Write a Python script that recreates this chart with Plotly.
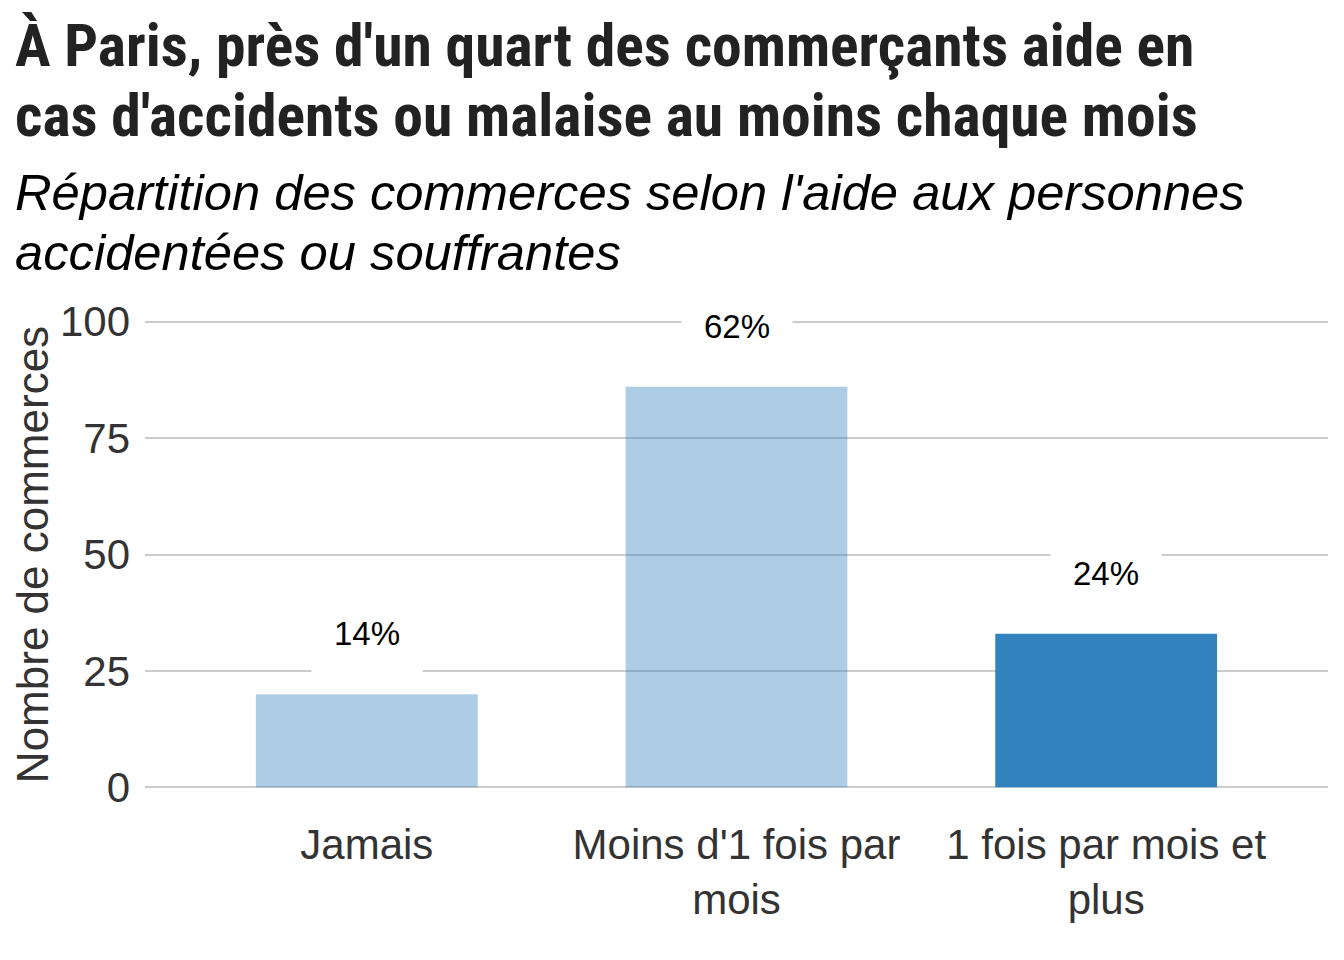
import plotly.graph_objects as go

categories = ["Jamais", "Moins d'1 fois par<br>mois", "1 fois par mois et<br>plus"]
counts = [20, 86, 33]
pct_labels = ["14%", "62%", "24%"]
bar_colors = ["rgba(49,130,189,0.4)", "rgba(49,130,189,0.4)", "rgb(49,130,189)"]
y_ticks = [0, 25, 50, 75, 100]

title_lines = ["À Paris, près d'un quart des commerçants aide en",
               "cas d'accidents ou malaise au moins chaque mois"]
subtitle_lines = ["Répartition des commerces selon l'aide aux personnes",
                  "accidentées ou souffrantes"]

OFF = 8  # page body margin
W, H = 1336, 952
ML, MT = 137, 309
MR = 16
MB = 168
PW, PH = W - ML - MR, H - MT - MB

def px2paper(x, y):
    # x, y given in screenshot pixels
    x -= OFF
    y -= OFF
    return (x - ML) / PW, (H - MB - y) / PH

fig = go.Figure()
x_idx = list(range(len(categories)))
fig.add_trace(go.Bar(x=x_idx, y=counts, marker=dict(color=bar_colors, line=dict(width=0)),
                     width=0.6, hoverinfo="skip"))

annotations = []
for i, (c, p) in enumerate(zip(counts, pct_labels)):
    annotations.append(dict(x=i, y=c + 13, xref="x", yref="y", text=p, showarrow=False,
                            font=dict(family="Liberation Sans, Arial", size=33, color="#000000"),
                            bgcolor="#ffffff", borderpad=22, xanchor="center", yanchor="middle"))

tfont = dict(family="Roboto Condensed, Liberation Sans Narrow, DejaVu Sans Condensed, sans-serif",
             size=59.6, color="#222222")
for line, cy in zip(title_lines, [46, 116]):
    px, py = px2paper(13, cy)
    annotations.append(dict(x=px, y=py, xref="paper", yref="paper", text="<b>" + line + "</b>",
                            showarrow=False, font=tfont, xanchor="left", yanchor="middle"))
sfont = dict(family="Liberation Sans, Arial", size=50.7, color="#000000")
for line, cy in zip(subtitle_lines, [192, 252]):
    px, py = px2paper(13, cy)
    annotations.append(dict(x=px, y=py, xref="paper", yref="paper", text="<i>" + line + "</i>",
                            showarrow=False, font=sfont, xanchor="left", yanchor="middle"))

fig.update_layout(
    width=W, height=H,
    margin=dict(l=ML, r=MR, t=MT, b=MB, autoexpand=False),
    paper_bgcolor="white", plot_bgcolor="white",
    showlegend=False,
    annotations=annotations,
)
fig.update_xaxes(range=[-0.6, 2.6], tickmode="array", tickvals=x_idx, ticktext=categories,
                 showgrid=False, zeroline=False, showline=False, ticks="",
                 tickfont=dict(family="Liberation Sans, Arial", size=42, color="#333333"),
                 ticklabelstandoff=24)
fig.update_yaxes(range=[-1, 101], tickmode="array", tickvals=y_ticks,
                 showgrid=True, gridcolor="#cccccc", gridwidth=2, zeroline=False, showline=False,
                 ticks="", tickfont=dict(family="Liberation Sans, Arial", size=42, color="#333333"),
                 ticklabelstandoff=14,
                 title=dict(text="Nombre de commerces", standoff=10,
                            font=dict(family="Liberation Sans, Arial", size=44, color="#333333")))

fig.write_html("out.html")
